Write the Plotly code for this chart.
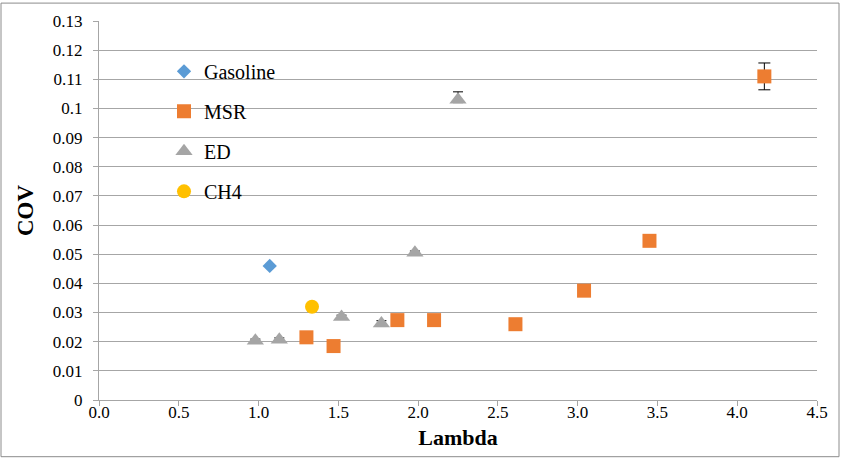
import plotly.graph_objects as go

# Coefficient of variation versus lambda for each fuel
gas_lambda = [1.07]
gas_cov = [0.046]

msr_lambda = [1.30, 1.47, 1.87, 2.10, 2.61, 3.04, 3.45, 4.17]
msr_cov = [0.0215, 0.0185, 0.0274, 0.0274, 0.0260, 0.0375, 0.0546, 0.111]
msr_err = [0.0, 0.0, 0.0, 0.0, 0.0, 0.0, 0.0, 0.0046]

ed_lambda = [0.98, 1.13, 1.52, 1.77, 1.98, 2.25]
ed_cov = [0.0203, 0.0207, 0.0285, 0.0262, 0.0505, 0.1030]
ed_err_plus = [0.0006, 0.0006, 0.0006, 0.0010, 0.0006, 0.0027]
ed_err_minus = [0.0006, 0.0006, 0.0006, 0.0010, 0.0006, 0.0010]

ch4_lambda = [1.335]
ch4_cov = [0.032]

x_ticks = [0.0, 0.5, 1.0, 1.5, 2.0, 2.5, 3.0, 3.5, 4.0, 4.5]

FONT = "Liberation Serif"
GRID = "#a6a6a6"

fig = go.Figure()

fig.add_trace(go.Scatter(
    x=gas_lambda, y=gas_cov, mode="markers", name="Gasoline", legendgroup="g1",
    marker=dict(symbol="diamond", size=11, color="#5B9BD5"),
))
fig.add_trace(go.Scatter(
    x=msr_lambda, y=msr_cov, mode="markers", name="MSR", legendgroup="g2",
    marker=dict(symbol="square", size=14, color="#ED7D31"),
    error_y=dict(type="data", array=msr_err, color="#000000", thickness=1, width=6),
))
fig.add_trace(go.Scatter(
    x=ed_lambda, y=ed_cov, mode="markers", name="ED", legendgroup="g3",
    marker=dict(symbol="triangle-up", size=15, color="#A5A5A5"),
    error_y=dict(type="data", symmetric=False, array=ed_err_plus,
                 arrayminus=ed_err_minus, color="#000000", thickness=1, width=5),
))
fig.add_trace(go.Scatter(
    x=ch4_lambda, y=ch4_cov, mode="markers", name="CH4", legendgroup="g4",
    marker=dict(symbol="circle", size=14, color="#FFC000"),
))

# plot area: left 99 px, right 817 px, top 19 px, bottom 400 px
W, H = 841, 459
L, R, T, B = 99, 817, 19, 400
pw, ph = R - L, B - T

fig.update_layout(
    width=W, height=H,
    margin=dict(l=L, r=W - R, t=T, b=H - B, pad=0),
    paper_bgcolor="white", plot_bgcolor="white",
    font=dict(family=FONT, size=17, color="#000000"),
    showlegend=True,
    legend=dict(
        x=(164 - L) / pw, y=(B - 50) / ph, xanchor="left", yanchor="top",
        bgcolor="rgba(0,0,0,0)", font=dict(family=FONT, size=20, color="#000000"),
        tracegroupgap=11, itemwidth=30,
    ),
    xaxis=dict(
        range=[0, 4.5], tickvals=x_ticks, tickformat=".1f",
        showgrid=False, zeroline=False,
        showline=True, linecolor=GRID, linewidth=1,
        ticks="outside", ticklen=5, tickcolor=GRID,
        tickfont=dict(family=FONT, size=17),
        ticklabelstandoff=-8,
        title=dict(text="<b>Lambda</b>", font=dict(family=FONT, size=22), standoff=8),
    ),
    yaxis=dict(
        range=[0, 0.13], dtick=0.01, tick0=0,
        showgrid=True, gridcolor=GRID, gridwidth=1, zeroline=False,
        showline=True, linecolor=GRID, linewidth=1,
        ticks="outside", ticklen=5, tickcolor=GRID,
        tickfont=dict(family=FONT, size=17),
        ticklabelstandoff=7,
        title=dict(text="<b>COV</b>", font=dict(family=FONT, size=23), standoff=12),
    ),
    shapes=[dict(
        type="rect", xref="paper", yref="paper",
        x0=(1 - L) / pw, x1=(839 - L) / pw,
        y0=(B - 457) / ph, y1=(B - 1) / ph,
        line=dict(color="#8c8c8c", width=1), fillcolor="rgba(0,0,0,0)", layer="below",
    )],
)

fig.write_html("out.html")
